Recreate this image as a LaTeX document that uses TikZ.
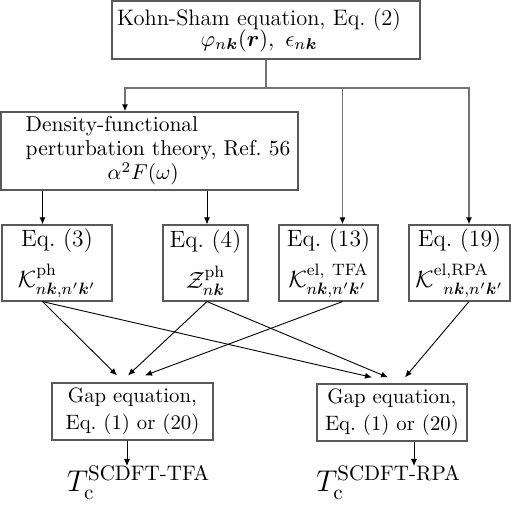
\RequirePackage{fix-cm}
\documentclass[tikz,border=0pt]{standalone}
\usepackage{amsmath}
\usepackage{bm}
\usetikzlibrary{arrows.meta}

\begin{document}
\begin{tikzpicture}[x=0.5pt, y=-0.5pt,
  box/.style={draw=black!65, line width=0.6pt, align=center, inner sep=0pt},
  eqbox/.style={box, minimum height=38pt, font=\fontsize{11.8}{14}\selectfont},
  gapbox/.style={box, minimum height=28.5pt, font=\fontsize{10.4}{13.5}\selectfont},
  tclabel/.style={anchor=north, inner sep=0pt, font=\fontsize{15}{18}\selectfont},
  bus/.style={draw=black!55, line width=0.9pt},
  link/.style={-{Latex[length=3.5pt,width=3pt]}, line width=0.45pt},
  buslink/.style={bus, -{Latex[length=3.5pt,width=3pt,color=black]}}]

\useasboundingbox (0,0) rectangle (511,506);

\node[box, minimum width=154pt, minimum height=29pt, font=\fontsize{11.2}{12.5}\selectfont] (ks) at (266,30)
  {Kohn-Sham equation, Eq.~(2)\hspace*{7pt}\\[-2pt] $\varphi_{n\bm{k}}(\bm{r}),\ \epsilon_{n\bm{k}}$\hspace*{7pt}};
\node[box, align=left, minimum width=148.5pt, minimum height=39pt, font=\fontsize{10.75}{12}\selectfont] (dfpt) at (149.5,151)
  {\hspace*{8.5pt}Density-functional\\ \hspace*{8.5pt}perturbation theory, Ref.~56\\ \hspace*{49.5pt}$\alpha^2F(\omega)$};

\node[eqbox, minimum width=55pt] (eq3) at (57,263) {Eq.~(3)\\[5pt] $\mathcal{K}^{\mathrm{ph}}_{n\bm{k},n'\bm{k}'}$};
\node[eqbox, minimum width=42.5pt] (eq4) at (205.5,263) {Eq.~(4)\\[5pt] $\mathcal{Z}^{\mathrm{ph}}_{n\bm{k}}$};
\node[eqbox, minimum width=49.5pt] (eq13) at (328.5,263) {Eq.~(13)\\[5pt] $\mathcal{K}^{\mathrm{el,\ TFA}}_{n\bm{k},n'\bm{k}'}$};
\node[eqbox, minimum width=50.5pt] (eq19) at (459.5,263) {Eq.~(19)\\[5pt] $\mathcal{K}^{\mathrm{el,RPA}}_{\hspace{5pt}n\bm{k},n'\bm{k}'}$};

\node[gapbox, minimum width=80.5pt] (gap1) at (132.5,411.5) {Gap equation,\\ Eq.~(1) or (20)};
\node[gapbox, minimum width=75pt] (gap2) at (392,412.5) {Gap equation,\\ Eq.~(1) or (20)};

\node[tclabel] (tc1) at (138.5,466) {$T_{\mathrm{c}}^{\mathrm{SCDFT\text{-}TFA}}$};
\node[tclabel] (tc2) at (388.5,466) {$T_{\mathrm{c}}^{\mathrm{SCDFT\text{-}RPA}}$};

\coordinate (busy) at (0,88);
\coordinate (c1) at (125,0);
\coordinate (c3) at (42.5,0);
\coordinate (c4) at (207,0);
\coordinate (c13) at (342.5,0);
\coordinate (c19) at (469,0);
\coordinate (t1) at (127,0);
\coordinate (t2) at (414,0);

\draw[bus] (ks.south) -- (ks.south |- busy);
\draw[buslink] (ks.south |- busy) -| (dfpt.north -| c1);
\draw[buslink] (ks.south |- busy) -| (eq19.north -| c19);
\draw[buslink] (c13 |- busy) -- (eq13.north -| c13);

\draw[link] (dfpt.south -| c3) -- (eq3.north -| c3);
\draw[link] (dfpt.south -| c4) -- (eq4.north -| c4);

\coordinate (g1a) at ([shift={(-7.75pt,3.5pt)}]gap1.north);
\coordinate (g1b) at ([shift={(-2.25pt,3.5pt)}]gap1.north);
\coordinate (g1c) at ([shift={(6.25pt,3.5pt)}]gap1.north);
\coordinate (g2a) at ([shift={(-10pt,3pt)}]gap2.north);
\coordinate (g2b) at ([shift={(-2pt,3pt)}]gap2.north);
\coordinate (g2c) at ([shift={(6.5pt,3pt)}]gap2.north);

\draw[link] (eq3.south -| c3) -- (g1a);
\draw[link] (eq3.south -| c3) -- (g2a);
\draw[link] (eq4.south -| c4) -- (g1b);
\draw[link] (eq4.south -| c4) -- (g2b);
\draw[link] (eq13.south -| c13) -- (g1c);
\draw[link] (eq19.south -| c19) -- (g2c);

\draw[link] (gap1.south -| t1) -- (tc1.north -| t1);
\draw[link] (gap2.south -| t2) -- (tc2.north -| t2);

\end{tikzpicture}
\end{document}
